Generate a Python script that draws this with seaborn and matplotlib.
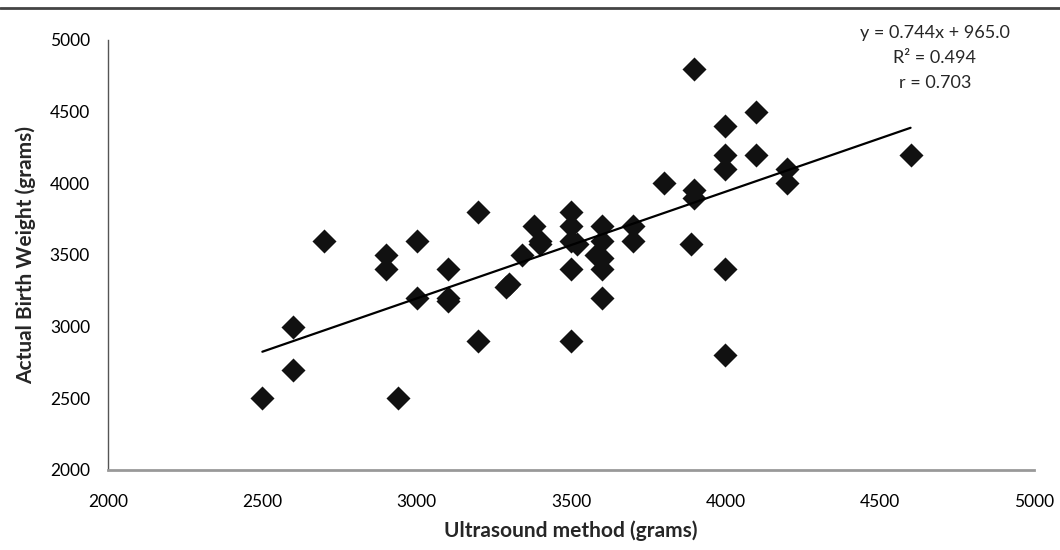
import numpy as np
import pandas as pd
import seaborn as sns
import matplotlib.pyplot as plt
from matplotlib.lines import Line2D

# ultrasound estimate vs actual birth weight (grams)
ultrasound = [2500, 2600, 2600, 2700, 2900, 2900, 3000, 3000, 2940, 3100,
              3100, 3100, 3200, 3200, 3300, 3290, 3340, 3380, 3400, 3400,
              3500, 3500, 3500, 3520, 3500, 3500, 3600, 3600, 3580, 3600,
              3600, 3600, 3700, 3700, 3800, 3900, 3900, 3900, 3890, 4000,
              4000, 4000, 4000, 4000, 4100, 4100, 4200, 4200, 4600]
actual = [2500, 3000, 2700, 3600, 3500, 3400, 3600, 3200, 2500, 3400,
          3200, 3180, 3800, 2900, 3300, 3280, 3500, 3700, 3600, 3580,
          3800, 3700, 3600, 3580, 3400, 2900, 3700, 3600, 3500, 3480,
          3400, 3200, 3700, 3600, 4000, 4800, 3950, 3900, 3580, 4400,
          4200, 4100, 3400, 2800, 4500, 4200, 4100, 4000, 4200]

# trendline as printed on the chart
slope = 0.744
intercept = 965.0
r_squared = 0.494
r_value = 0.703

df = pd.DataFrame({'Ultrasound': ultrasound, 'Actual': actual})

sns.set_style('white')
plt.rcParams['font.family'] = ['Lato', 'DejaVu Sans']

fig = plt.figure(figsize=(10.6, 5.5), dpi=100)
ax = fig.add_axes([0.1019, 0.1455, 0.8736, 0.7818])

sns.scatterplot(data=df, x='Ultrasound', y='Actual', marker='D', s=150,
                color='#111111', edgecolor='#111111', linewidth=0, ax=ax, zorder=3)

x_line = np.array([df['Ultrasound'].min(), df['Ultrasound'].max()])
ax.plot(x_line, slope * x_line + intercept, color='black', lw=1.6, zorder=4)

ax.set_xlim(2000, 5000)
ax.set_ylim(2000, 5000)
ax.set_xticks(range(2000, 5001, 500))
ax.set_yticks(range(2000, 5001, 500))
ax.tick_params(axis='both', labelsize=12.5, colors='#333333', labelcolor='black')
ax.tick_params(axis='x', direction='out', length=7, width=1, pad=10, color='#888888')
ax.tick_params(axis='y', direction='out', length=5, width=1, pad=8, color='#555555')

for side in ['top', 'right']:
    ax.spines[side].set_visible(False)
ax.spines['left'].set_color('#555555')
ax.spines['left'].set_linewidth(1.0)
ax.spines['bottom'].set_color('#999999')
ax.spines['bottom'].set_linewidth(2.0)

ax.set_xlabel('Ultrasound method (grams)', fontsize=15, fontweight='bold', labelpad=8)
ax.set_ylabel('Actual Birth Weight (grams)', fontsize=15, fontweight='bold', labelpad=10)

stats = f'y = {slope:.3f}x + {intercept:.1f}\nR² = {r_squared:.3f}\nr = {r_value:.3f}'
fig.text(0.882, 0.955, stats, ha='center', va='top', fontsize=13, linespacing=1.7)

# frame line across the top of the figure
fig.add_artist(Line2D([0, 1], [0.985, 0.985], color='#444444', lw=2))

fig.savefig('out.png', dpi=100)
